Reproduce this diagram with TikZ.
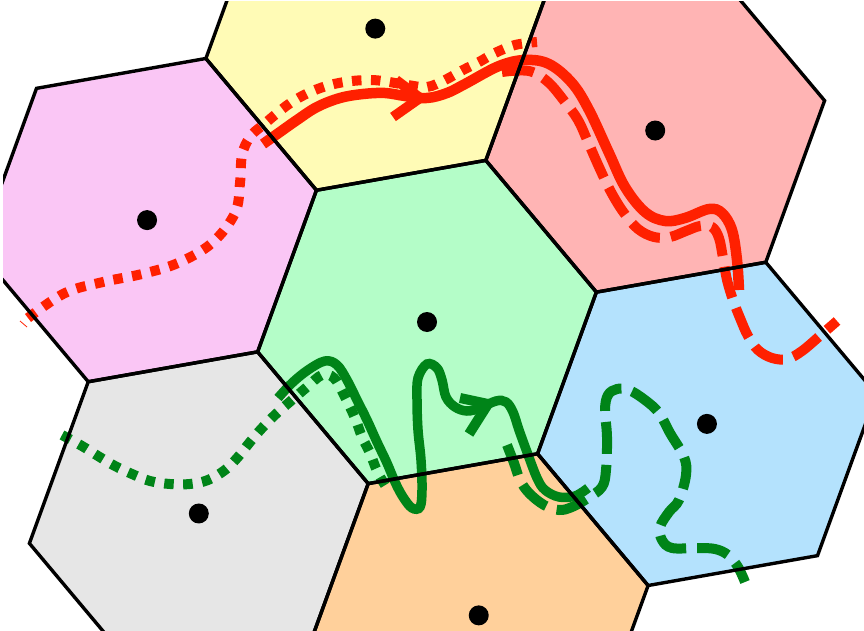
\documentclass[tikz,border=0pt]{standalone}
\usetikzlibrary{calc}

\definecolor{cellcentre}{RGB}{180,253,200}
\definecolor{cellyellow}{RGB}{255,251,182}
\definecolor{cellsalmon}{RGB}{255,180,180}
\definecolor{cellmagenta}{RGB}{250,198,245}
\definecolor{cellgrey}{RGB}{230,230,230}
\definecolor{cellorange}{RGB}{255,208,155}
\definecolor{cellblue}{RGB}{180,226,253}
\definecolor{pathred}{RGB}{255,32,0}
\definecolor{pathgreen}{RGB}{0,132,24}

\tikzset{
  hexedge/.style={draw=black, line width=3.4pt, line join=miter},
  sitedot/.style={fill=black},
  solidcurve/.style={line width=10.5pt, line cap=butt},
  dottedcurve/.style={line width=10pt, line cap=butt, dash pattern=on 9.5pt off 9.5pt},
  dashedcurve/.style={line width=10pt, line cap=butt, dash pattern=on 32pt off 11pt},
  chevron/.style={line width=10pt, line cap=butt, line join=miter},
}

% hexagonal cell of circumradius 172pt around a centre
\newcommand{\hexcell}[1]{[shift={(#1)}] (10:172pt) -- (70:172pt) -- (130:172pt)
  -- (190:172pt) -- (250:172pt) -- (310:172pt) -- cycle}

\begin{document}
\begin{tikzpicture}[x=1pt,y=-1pt]
\useasboundingbox (0,0) rectangle (864,631);
\begin{scope}
\clip (3,2) rectangle (864,631);

% cell centres
\coordinate (c0) at (427,322);
\coordinate (cyellow)  at ($(c0)+(100:297.9pt)$);
\coordinate (csalmon)  at ($(c0)+(40:297.9pt)$);
\coordinate (cmagenta) at ($(c0)+(160:297.9pt)$);
\coordinate (cgrey)    at ($(c0)+(220:297.9pt)$);
\coordinate (corange)  at ($(c0)+(280:297.9pt)$);
\coordinate (cblue)    at ($(c0)+(340:297.9pt)$);

% cell fills
\foreach \c/\col in {c0/cellcentre, cyellow/cellyellow, csalmon/cellsalmon,
    cmagenta/cellmagenta, cgrey/cellgrey, corange/cellorange, cblue/cellblue}
  \fill[\col] \hexcell{\c};

% red trajectories
\draw[pathred, dottedcurve] plot[smooth, tension=0.6] coordinates {
  (28,318) (65,293) (103,282) (142,274) (178,263) (212,243) (235,213)
  (240,183) (242,155) (250,137) (263,125) (295,100) (330,85) (370,80)
  (407,85) (427,87) (445,80) (463,70) (479,62) (495,53) (515,45) (537,42)};
\draw[pathred, line width=0.8pt] (20,321) -- (27,327);

\draw[pathred, solidcurve] plot[smooth, tension=0.6] coordinates {
  (263,144) (280,132) (297,120) (317,107) (340,98) (363,94) (385,93)
  (405,96) (427,98) (447,93) (465,84) (499,66) (525,60) (549,64) (572,83)
  (589,110) (609,153) (625,187) (645,212) (665,221) (685,218) (709,209)
  (722,213) (732,230) (737,260) (739,290)};
\draw[pathred, chevron] (393,117) -- (420,98) -- (396,80);

\draw[pathred, dashedcurve] plot[smooth, tension=0.6] coordinates {
  (502,72) (529,71) (548,82) (565,102) (578,120) (588,142) (599,167)
  (611,192) (624,213) (638,229) (654,237) (670,237) (686,231) (700,226)
  (712,227) (719,238) (723,258) (727,280) (733,300) (740,318) (748,336)
  (758,350) (772,358) (787,359) (802,351) (822,334) (837,321)};

% green trajectories
\draw[pathgreen, dottedcurve] plot[smooth, tension=0.6] coordinates {
  (62,435) (82,446) (98,456) (115,466) (132,474) (150,481) (170,484)
  (190,484) (208,480) (225,470) (238,457) (250,442) (263,427) (277,413)
  (292,400) (307,387) (322,375) (334,378) (344,395) (355,418) (362,437)
  (370,453) (378,473) (390,493)};

\draw[pathgreen, solidcurve, line width=9.5pt] plot[smooth, tension=0.6] coordinates {
  (278,398) (292,383) (308,370) (325,361) (337,365) (347,380) (357,400)
  (367,420) (377,442) (387,463) (395,482) (403,497) (412,508) (420,507)
  (422,490) (421,460) (418,430) (417,400) (418,378) (427,364) (437,368)
  (442,380) (446,397) (455,407) (467,411) (480,408) (496,401) (506,402)
  (513,412) (519,430) (527,452) (537,478) (545,490) (559,497) (575,496)
  (588,488)};
\draw[pathgreen, chevron] (460,398) -- (488,404) -- (469,434);

\draw[pathgreen, dashedcurve] plot[smooth, tension=0.6] coordinates {
  (507,445) (514,463) (520,480) (529,493) (544,505) (559,510) (572,507)
  (588,498) (602,487) (606,470) (607,437) (605,410) (608,395) (617,389)
  (629,390) (645,400) (659,413) (670,433) (684,457) (686,475) (679,500)
  (669,512) (660,527) (662,540) (672,548) (697,548) (715,549) (728,555)
  (738,567) (745,582)};

% cell borders
\foreach \c in {c0, cyellow, csalmon, cmagenta, cgrey, corange, cblue}
  \draw[hexedge] \hexcell{\c};

% generating sites
\foreach \c in {c0, cyellow, csalmon, cmagenta, cgrey, corange, cblue}
  \fill[sitedot] (\c) circle (10pt);
\end{scope}
\end{tikzpicture}
\end{document}
